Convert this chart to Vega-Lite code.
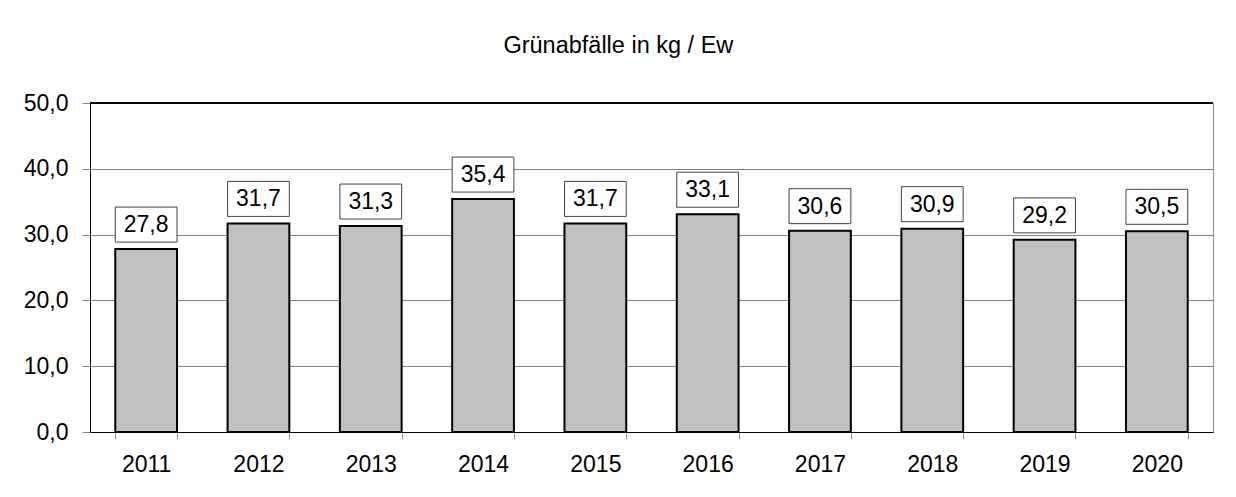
{
  "$schema": "https://vega.github.io/schema/vega-lite/v6.json",
  "autosize": {"type": "none"},
  "width": 1123,
  "height": 329,
  "padding": {"left": 90, "top": 103, "right": 23, "bottom": 65},
  "background": "white",
  "config": {
    "font": "Liberation Sans",
    "view": {"stroke": "#909090", "strokeWidth": 1},
    "locale": {"number": {"decimal": ",", "thousands": ".", "grouping": [3], "currency": ["", " €"]}}
  },
  "title": {
    "text": "Grünabfälle in kg / Ew",
    "frame": "bounds",
    "anchor": "middle",
    "fontSize": 23.5,
    "fontWeight": "normal",
    "color": "black",
    "font": "Liberation Sans",
    "offset": 35
  },
  "data": {
    "values": [
      {"Jahr": "2011", "Wert": 27.8},
      {"Jahr": "2012", "Wert": 31.7},
      {"Jahr": "2013", "Wert": 31.3},
      {"Jahr": "2014", "Wert": 35.4},
      {"Jahr": "2015", "Wert": 31.7},
      {"Jahr": "2016", "Wert": 33.1},
      {"Jahr": "2017", "Wert": 30.6},
      {"Jahr": "2018", "Wert": 30.9},
      {"Jahr": "2019", "Wert": 29.2},
      {"Jahr": "2020", "Wert": 30.5}
    ]
  },
  "layer": [
    {
      "mark": {"type": "bar", "fill": "#C0C0C0", "stroke": "black", "strokeWidth": 2},
      "encoding": {
        "x": {
          "field": "Jahr",
          "type": "ordinal",
          "scale": {"paddingInner": 0.45, "paddingOuter": 0.225},
          "axis": {
            "title": null,
            "grid": false,
            "labelAngle": 0,
            "labelFontSize": 23,
            "labelColor": "black",
            "labelPadding": 14,
            "tickBand": "extent",
            "tickSize": 7,
            "tickColor": "#909090",
            "domainColor": "black",
            "domainWidth": 1
          }
        },
        "y": {
          "field": "Wert",
          "type": "quantitative",
          "scale": {"domain": [0, 50], "nice": false},
          "axis": {
            "title": null,
            "values": [0, 10, 20, 30, 40, 50],
            "format": ".1f",
            "labelFontSize": 23,
            "labelColor": "black",
            "labelPadding": 14,
            "tickSize": 8,
            "tickColor": "#808080",
            "grid": true,
            "gridColor": "#808080",
            "gridWidth": 1,
            "domainColor": "black",
            "domainWidth": 1
          }
        }
      }
    },
    {
      "mark": {"type": "rule", "color": "black", "strokeWidth": 1},
      "encoding": {"y": {"datum": 50}}
    },
    {
      "mark": {"type": "bar", "fill": "white", "stroke": "#404040", "strokeWidth": 1, "yOffset": -42, "y2Offset": -7},
      "encoding": {
        "x": {"field": "Jahr", "type": "ordinal"},
        "y": {"field": "Wert", "type": "quantitative"},
        "y2": {"field": "Wert"}
      }
    },
    {
      "mark": {"type": "text", "fontSize": 23, "color": "black", "baseline": "middle", "dy": -24},
      "encoding": {
        "x": {"field": "Jahr", "type": "ordinal"},
        "y": {"field": "Wert", "type": "quantitative"},
        "text": {"field": "Wert", "type": "quantitative", "format": ".1f"}
      }
    }
  ]
}
